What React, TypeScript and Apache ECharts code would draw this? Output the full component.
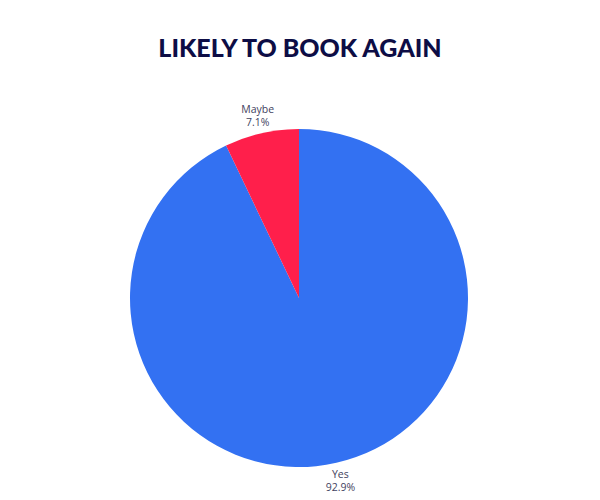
import React, { useEffect, useRef } from "react";
import * as echarts from "echarts";

const categories = ["Yes", "Maybe"];
const shares = [92.9, 7.1];
const sliceColors = ["#3371F2", "#FF1F4B"];

const App = () => {
    const chartRef = useRef<HTMLDivElement>(null);

    useEffect(() => {
        document.body.style.margin = "0";
        if (!chartRef.current) return;
        const chart = echarts.init(chartRef.current, null, { renderer: "svg" });

        chart.setOption({
            animation: false,
            backgroundColor: "#ffffff",
            title: {
                text: "LIKELY TO BOOK AGAIN",
                left: "center",
                top: 29,
                textStyle: {
                    fontFamily: "Lato",
                    fontWeight: 900,
                    fontSize: 25,
                    color: "#0D0D45",
                },
            },
            series: [
                {
                    type: "pie",
                    center: [299, 298],
                    radius: 169,
                    startAngle: 90,
                    clockwise: true,
                    data: categories.map((name, i) => ({
                        name,
                        value: shares[i],
                        itemStyle: { color: sliceColors[i] },
                    })),
                    label: {
                        show: true,
                        position: "outside",
                        formatter: (p: any) => `${p.name}\n${p.value.toFixed(1)}%`,
                        fontFamily: "Open Sans",
                        fontSize: 10.5,
                        lineHeight: 13,
                        color: "#3F4260",
                        distanceToLabelLine: 0,
                    },
                    labelLine: { show: false, length: 18, length2: 0 },
                    labelLayout: { align: "center" },
                    emphasis: { disabled: true },
                },
            ],
        });

        return () => chart.dispose();
    }, []);

    return <div ref={chartRef} style={{ width: "600px", height: "500px" }} />;
};

export default App;
